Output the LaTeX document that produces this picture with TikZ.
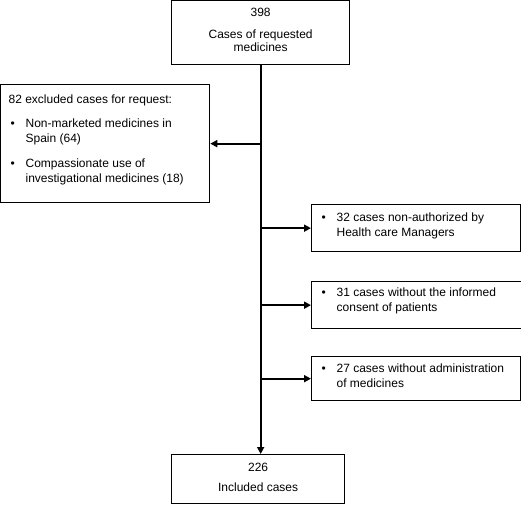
\documentclass[tikz,border=0pt]{standalone}
\usepackage{fontspec}
\setmainfont{Liberation Sans}
\usetikzlibrary{arrows.meta}

\newcommand{\bul}{\makebox[17pt][l]{\hspace{2pt}\textbullet}}
\newcommand{\ind}{\hspace*{17pt}}

\tikzset{
  box/.style={draw, line width=1.3pt, anchor=north west, inner xsep=8pt, inner ysep=6pt,
    font=\fontsize{12}{15}\selectfont},
  cbox/.style={box, inner xsep=0pt, inner ysep=7.5pt},
  flow/.style={line width=1.8pt, -{Triangle[length=7pt,width=7pt]}},
}

\begin{document}
\begin{tikzpicture}[x=1pt, y=-1pt]
    \useasboundingbox (0,0) rectangle (521,504);

    % Начало
    \node[cbox] (req) at (171,0)
      {\parbox[t][49pt][t]{178pt}{\centering 398\\[6.5pt]Cases of requested\\[-1.5pt]medicines}};

    % Исключённые по запросу
    \node[box, inner ysep=10.5pt] (excl) at (0,84)
      {\parbox[t][97pt][t]{193pt}{\raggedright
        82 excluded cases for request:\\[8.5pt]
        \bul Non-marketed medicines in\\
        \ind Spain (64)\\[10pt]
        \bul Compassionate use of\\
        \ind investigational medicines (18)}};

    % Исключённые справа
    \node[box, inner ysep=8.5pt] (auth) at (311,204)
      {\parbox[t][30pt][t]{193pt}{\raggedright
        \bul 32 cases non-authorized by\\
        \ind Health care Managers}};
    \node[box, inner ysep=6pt] (consent) at (311,281)
      {\parbox[t][35pt][t]{194pt}{\raggedright
        \bul 31 cases without the informed\\
        \ind consent of patients}};
    \node[box, inner ysep=7pt] (admin) at (311,356)
      {\parbox[t][30pt][t]{193pt}{\raggedright
        \bul 27 cases without administration\\
        \ind of medicines}};

    % Итог
    \node[cbox, inner ysep=8pt] (incl) at (171,454)
      {\parbox[t][33pt][t]{173pt}{\centering 226\\[5.5pt]Included cases}};

    % Стрелки
    \draw[flow] (req.south) -- (req.south |- incl.north);
    \draw[flow] (req.south |- excl.east) -- (excl.east);
    \draw[flow] (req.south |- auth.west) -- (auth.west);
    \draw[flow] (req.south |- consent.west) -- (consent.west);
    \draw[flow] (req.south |- admin.west) -- (admin.west);
\end{tikzpicture}
\end{document}
